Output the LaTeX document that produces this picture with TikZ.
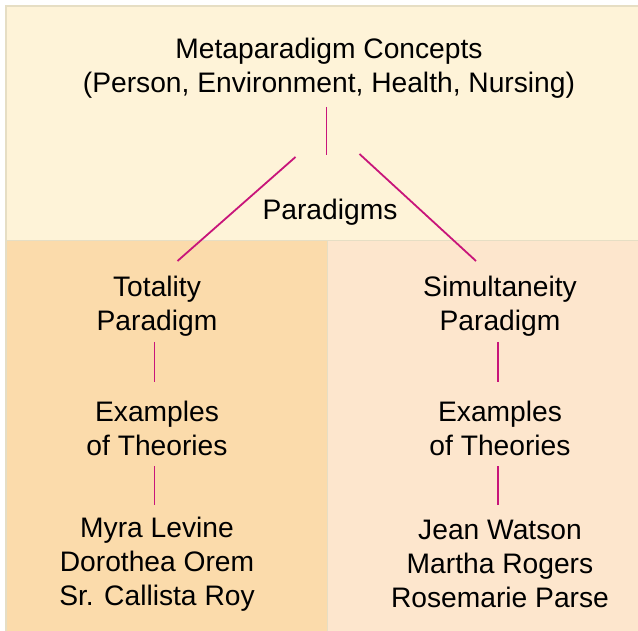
\documentclass[tikz,border=0pt]{standalone}
\usepackage{fontspec}
\setmainfont{Liberation Sans}
\begin{document}
\begin{tikzpicture}[x=1pt,y=-1pt,
  lbl/.style={align=center,font=\fontsize{28.2}{34.2}\selectfont,inner sep=0pt},
  link/.style={draw=linkcol,line width=1.8pt}]
\definecolor{topfill}{HTML}{FEF3D8}
\definecolor{leftfill}{HTML}{FBDBAB}
\definecolor{rightfill}{HTML}{FDE6CD}
\definecolor{rule}{HTML}{E6DEC4}
\definecolor{linkcol}{HTML}{C8157A}
\useasboundingbox (0,0) rectangle (638,631);
\fill[white] (0,0) rectangle (638,631);
% panels
\fill[topfill] (6,6) rectangle (638,240.5);
\fill[leftfill] (6,240.5) rectangle (327.5,631);
\fill[rightfill] (327.5,240.5) rectangle (638,631);
\draw[rule,line width=1.6pt] (6,631) -- (6,6) -- (638,6);
\draw[rule,line width=1.6pt] (6,240.5) -- (638,240.5);
\draw[rule,line width=1.6pt] (327.5,240.5) -- (327.5,631);
% texts
\node[lbl] (meta) at (329,68.5) {Metaparadigm Concepts\\(Person, Environment, Health, Nursing)};
\node[lbl] (para) at (330,212) {Paradigms};
\node[lbl] (tot) at (157,306) {Totality\\Paradigm};
\node[lbl] (sim) at (500,306) {Simultaneity\\Paradigm};
\node[lbl] (exl) at (157,428.5) {Examples\\of Theories};
\node[lbl] (exr) at (500,428.5) {Examples\\of Theories};
\node[lbl] (nml) at (157,564) {Myra Levine\\Dorothea Orem\\Sr. Callista Roy};
\node[lbl] (nmr) at (500,564) {Jean Watson\\Martha Rogers\\Rosemarie Parse};
% connector end points
\coordinate (mt) at (326.5,107);
\coordinate (mb) at (326.5,155);
\coordinate (dl) at (295.5,157);
\coordinate (dr) at (359.5,154);
\coordinate (tl) at (177.5,261);
\coordinate (tr) at (476,261);
\draw[link] (mt) -- (mb);
\draw[link] (dl) -- (tl);
\draw[link] (dr) -- (tr);
\draw[link] (154.5,342) -- (154.5,382);
\draw[link] (154.5,466) -- (154.5,505);
\draw[link] (498,342) -- (498,382);
\draw[link] (498,466) -- (498,505);
\end{tikzpicture}
\end{document}
